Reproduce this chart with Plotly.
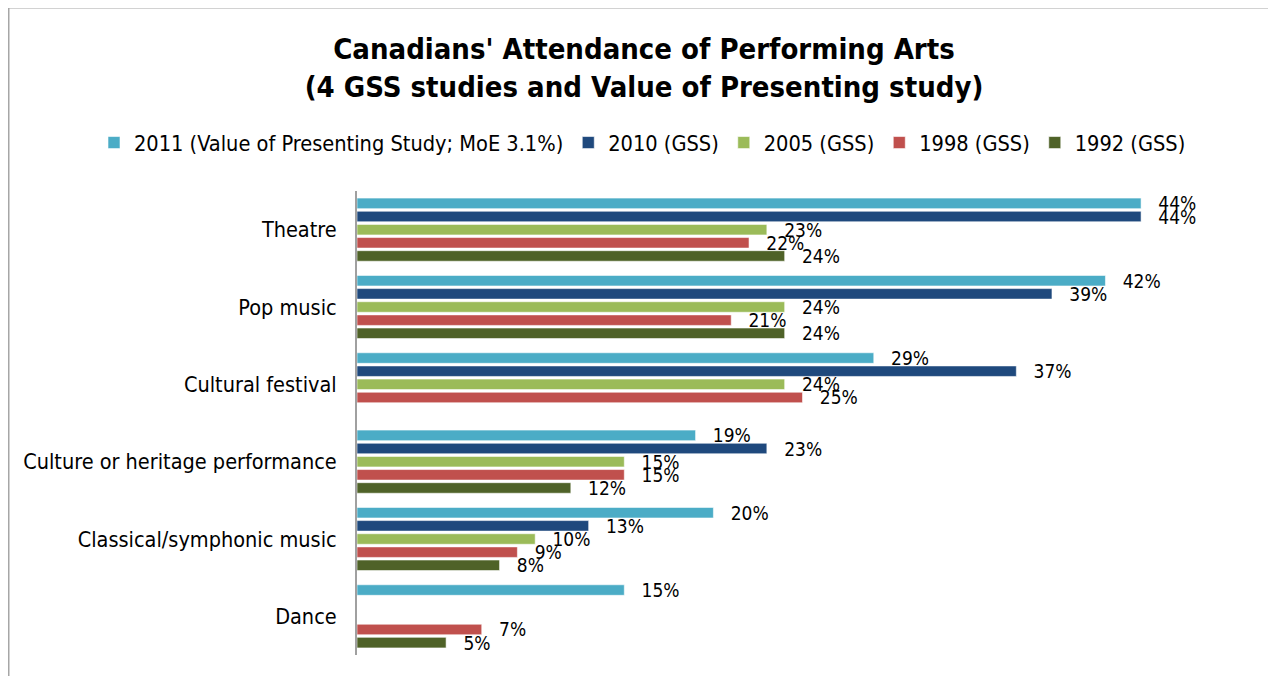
import plotly.graph_objects as go

categories = ["Theatre", "Pop music", "Cultural festival",
              "Culture or heritage performance", "Classical/symphonic music", "Dance"]
series_names = ["2011 (Value of Presenting Study; MoE 3.1%)", "2010 (GSS)",
                "2005 (GSS)", "1998 (GSS)", "1992 (GSS)"]
v2011 = [44, 42, 29, 19, 20, 15]
v2010 = [44, 39, 37, 23, 13, None]
v2005 = [23, 24, 24, 15, 10, None]
v1998 = [22, 21, 25, 15, 9, 7]
v1992 = [24, 24, None, 12, 8, 5]
colors = ["#4BACC6", "#1F497D", "#9BBB59", "#C0504D", "#4F6228"]

FONT = "DejaVu Sans Condensed"
W, H = 1268, 668
ML, MT, MR, MB = 349, 183, 28, 21
PW, PH = W - ML - MR, H - MT - MB

fig = go.Figure()
for name, vals, col in zip(series_names, [v2011, v2010, v2005, v1998, v1992], colors):
    fig.add_trace(go.Bar(
        y=categories, x=vals, name=name, orientation="h",
        marker=dict(color=col, line=dict(color="rgba(255,255,255,0.7)", width=0.8)),
        text=[None if v is None else f"\u00a0\u00a0\u2009{v}%" for v in vals],
        textposition="outside", constraintext="none", cliponaxis=False,
        textfont=dict(family=FONT, size=19, color="#000000"),
        hoverinfo="x+name",
    ))

fig.update_layout(
    width=W, height=H,
    paper_bgcolor="white", plot_bgcolor="white",
    margin=dict(l=ML, r=MR, t=MT, b=MB, autoexpand=False),
    barmode="group", bargap=0.15, bargroupgap=0.2,
    font=dict(family=FONT, size=21, color="#000000"),
    title=dict(
        text="<b>Canadians' Attendance of Performing Arts<br>(4 GSS studies and Value of Presenting study)</b>",
        x=636 / W, xref="container", xanchor="center",
        y=1 - 51 / H, yref="container", yanchor="top",
        font=dict(family=FONT, size=29, color="#000000"),
    ),
    legend=dict(
        orientation="h", x=(86 - ML) / PW, xanchor="left",
        y=1 + (MT - 135) / PH, yanchor="middle",
        font=dict(family=FONT, size=21.6), traceorder="normal",
        itemwidth=30,
    ),
    xaxis=dict(range=[0, 50], visible=False, showgrid=False, zeroline=False),
    yaxis=dict(autorange="reversed", showline=True, linecolor="#A0A0A0", linewidth=2,
               ticks="", ticklabelstandoff=14, showgrid=False,
               tickfont=dict(family=FONT, size=21.5, color="#000000")),
    shapes=[dict(type="rect", xref="paper", yref="paper",
                 x0=(0.5 - ML) / PW, x1=1.2, y0=-0.3, y1=1 + (MT + 0.5) / PH,
                 line=dict(color="#A6A6A6", width=2), fillcolor="rgba(0,0,0,0)", layer="below")],
)

fig.write_html("out.html")
